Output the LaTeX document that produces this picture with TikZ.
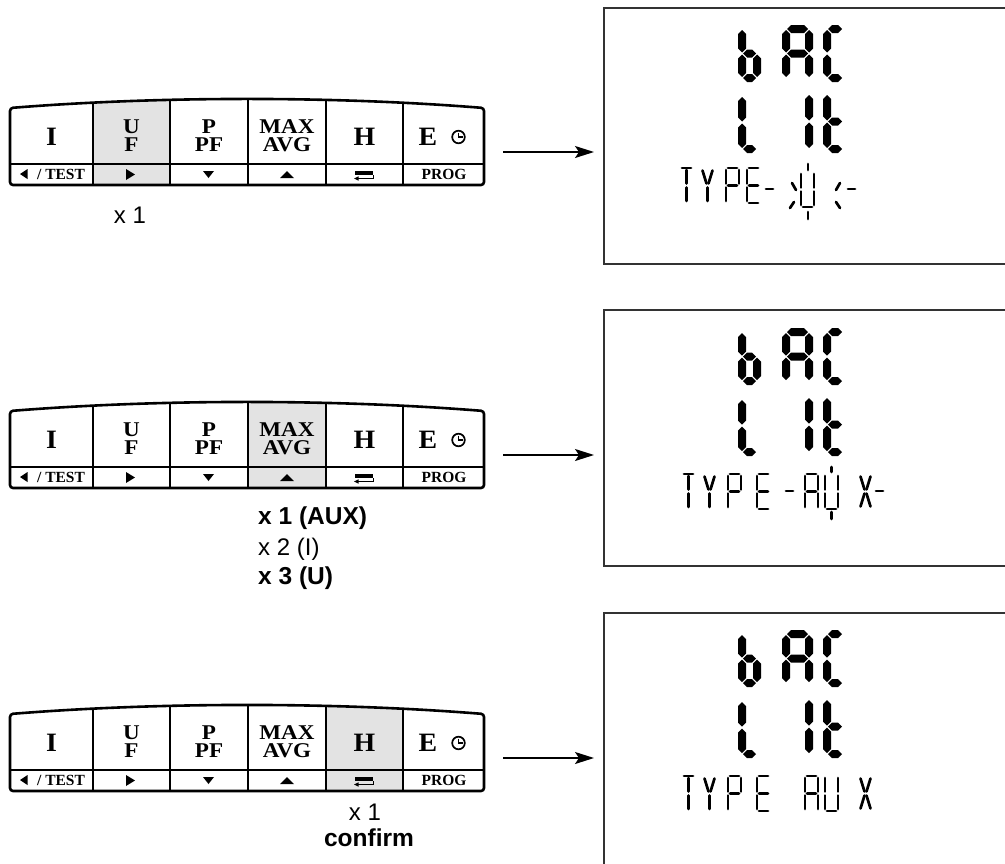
\documentclass[tikz,border=0pt]{standalone}
\usepackage{fontspec}
\setmainfont{Liberation Serif}
\newfontfamily\lsans{Liberation Sans}
\usetikzlibrary{arrows.meta}
\def\T{8}\def\G{1}
\def\SW{13}\def\SH{35}
\newcommand\hs[4]{\fill ({#1},{#3}) -- ({#1+#4/2},{#3-#4/2}) -- ({#2-#4/2},{#3-#4/2}) -- ({#2},{#3}) -- ({#2-#4/2},{#3+#4/2}) -- ({#1+#4/2},{#3+#4/2}) -- cycle;}
\newcommand\vs[4]{\fill ({#1},{#2}) -- ({#1+#4/2},{#2+#4/2}) -- ({#1+#4/2},{#3-#4/2}) -- ({#1},{#3}) -- ({#1-#4/2},{#3-#4/2}) -- ({#1-#4/2},{#2+#4/2}) -- cycle;}
\newcommand\SegA[4]{\hs{#1+\T/2+\G}{#1+#3-\T/2-\G}{#2+\T/2}{\T}}
\newcommand\SegB[4]{\vs{#1+#3-\T/2}{#2+\T/2+\G}{#2+#4/2-\G}{\T}}
\newcommand\SegC[4]{\vs{#1+#3-\T/2}{#2+#4/2+\G}{#2+#4-\T/2-\G}{\T}}
\newcommand\SegD[4]{\hs{#1+\T/2+\G}{#1+#3-\T/2-\G}{#2+#4-\T/2}{\T}}
\newcommand\SegE[4]{\vs{#1+\T/2}{#2+#4/2+\G}{#2+#4-\T/2-\G}{\T}}
\newcommand\SegF[4]{\vs{#1+\T/2}{#2+\T/2+\G}{#2+#4/2-\G}{\T}}
\newcommand\SegG[4]{\hs{#1+\T/2+\G}{#1+#3-\T/2-\G}{#2+#4/2}{\T}}
\newcommand\dig[5]{\foreach \s in {#5}{\csname Seg\s\endcsname{#1}{#2}{#3}{#4}}}
% small 14-segment characters
\newcommand\SMt[2]{\draw[ss] ({#1+2},{#2}) -- ({#1+\SW-2},{#2});}
\newcommand\SMb[2]{\draw[ss] ({#1+2},{#2+\SH}) -- ({#1+\SW-2},{#2+\SH});}
\newcommand\SMm[2]{\draw[ss] ({#1+2},{#2+\SH/2}) -- ({#1+\SW-2},{#2+\SH/2});}
\newcommand\SMlu[2]{\draw[ss] ({#1},{#2+2}) -- ({#1},{#2+\SH/2-2});}
\newcommand\SMll[2]{\draw[ss] ({#1},{#2+\SH/2+2}) -- ({#1},{#2+\SH-2});}
\newcommand\SMru[2]{\draw[ss] ({#1+\SW},{#2+2}) -- ({#1+\SW},{#2+\SH/2-2});}
\newcommand\SMrl[2]{\draw[ss] ({#1+\SW},{#2+\SH/2+2}) -- ({#1+\SW},{#2+\SH-2});}
\newcommand\SMcu[2]{\draw[ss] ({#1+\SW/2},{#2+2}) -- ({#1+\SW/2},{#2+\SH/2-2});}
\newcommand\SMcl[2]{\draw[ss] ({#1+\SW/2},{#2+\SH/2+2}) -- ({#1+\SW/2},{#2+\SH-2});}
\newcommand\SMdul[2]{\draw[ss] ({#1+1.5},{#2+2.5}) -- ({#1+\SW/2-1},{#2+\SH/2-2});}
\newcommand\SMdur[2]{\draw[ss] ({#1+\SW-1.5},{#2+2.5}) -- ({#1+\SW/2+1},{#2+\SH/2-2});}
\newcommand\SMdll[2]{\draw[ss] ({#1+1.5},{#2+\SH-2.5}) -- ({#1+\SW/2-1},{#2+\SH/2+2});}
\newcommand\SMdlr[2]{\draw[ss] ({#1+\SW-1.5},{#2+\SH-2.5}) -- ({#1+\SW/2+1},{#2+\SH/2+2});}
\newcommand\sm[3]{\foreach \s in {#3}{\csname SM\s\endcsname{#1}{#2}}}
\newcommand\dash[2]{\draw[ss] ({#1},{#2}) -- ({#1+7},{#2});}
\def\kpath{(10,108) .. controls (160,96) and (334,96) .. (484,108) -- (484,185) -- (10,185) -- cycle}
\newcommand\keypad[4]{%
\begin{scope}[shift={(0,#2)}]
 \begin{scope}
  \clip \kpath;
  \fill[black!11] (#3,90) rectangle (#4,190);
  \foreach \cx in {93,170,248,326,403} \draw[line width=2] (\cx,90) -- (\cx,190);
 \end{scope}
 \draw[line width=2] (10,164) -- (484,164);
 \draw[line width=2.6, rounded corners=3] (10,108) .. controls (160,96) and (334,96) .. (484,108) -- (484,185) -- (10,185) -- cycle;
 \node[inner sep=0, minimum width=474, minimum height=86] (#1) at (247,143) {};
 \node[keybig] (#1-i) at (51.5,137) {I};
 \node[keytwo] (#1-uf) at (131.5,136) {U\\F};
 \node[keytwo] (#1-ppf) at (209,136) {P\\PF};
 \node[keytwo] (#1-max) at (287,136) {MAX\\AVG};
 \node[keybig] (#1-h) at (364.5,137) {H};
 \node[keybig] (#1-e) at (428,137) {E};
 \draw[line width=1.7] (458.5,137) circle (6.3);
 \draw[line width=1.4] (458.5,132.5) -- (458.5,137) -- (462.5,137);
 \fill (27.5,169) -- (27.5,179) -- (20,174) -- cycle;
 \node[keysub] (#1-test) at (61,174.5) {/ TEST};
 \fill (126,169) -- (126,180) -- (135,174.5) -- cycle;
 \fill (203,171) -- (214,171) -- (208.5,178) -- cycle;
 \fill (280,178) -- (294,178) -- (287,171) -- cycle;
 \fill (355,170.5) rectangle (373,175);
 \draw[line width=0.9] (373,175) -- (373,178.5) -- (358,178.5);
 \fill (354,178.5) -- (358.5,176.3) -- (358.5,180.7) -- cycle;
 \node[keysub] (#1-prog) at (444,174.5) {PROG};
\end{scope}}
\newcommand\bigrows[1]{%
\begin{scope}[shift={(0,#1)}]
 \dig{738}{25}{23}{57}{F,E,G,C,D}
 \dig{782}{25}{31}{57}{A,B,C,E,F,G}
 \dig{823}{25}{24}{57}{A,D,E,F}
 \dig{738}{92}{23}{61}{F,E,D}
 \dig{790}{90}{23}{63}{B,C}
 \dig{823}{90}{24}{63}{F,E,G,D}
\end{scope}}
\begin{document}
\begin{tikzpicture}[x=1pt,y=-1pt,
  keybig/.style={font=\bfseries\fontsize{26.5}{26.5}\selectfont, inner sep=0, xscale=1.05},
  keytwo/.style={font=\bfseries\fontsize{21}{18}\selectfont, align=center, inner sep=0, xscale=1.1},
  keysub/.style={font=\bfseries\fontsize{15.5}{15.5}\selectfont, inner sep=0},
  lab/.style={font=\lsans\fontsize{24}{24}\selectfont, inner sep=0},
  labb/.style={font=\lsans\bfseries\fontsize{24.5}{24.5}\selectfont, inner sep=0},
  disp/.style={draw=black!80, line width=1.5, minimum width=430, minimum height=256, anchor=north west, inner sep=0},
  arr/.style={line width=1.6, -{Stealth[length=19,width=12,inset=4]}},
  ss/.style={line width=2.7, line cap=round},
]
\useasboundingbox (0,0) rectangle (1005,863);
% keypads
\keypad{kp1}{0}{93}{170}
\keypad{kp2}{303}{248}{326}
\keypad{kp3}{606}{326}{403}
% labels
\node[lab] (l1) at (130,215) {x 1};
\node[labb, anchor=west] (l2a) at (258,518) {x 1 (AUX)};
\node[lab, anchor=west] (l2b) at (258,549) {x 2 (I)};
\node[labb, anchor=west] (l2c) at (258,578) {x 3 (U)};
\node[lab] (l3a) at (365,812) {x 1};
\node[labb] (l3b) at (369,838) {confirm};
% displays
\node[disp] (d1) at (603,7) {};
\node[disp] (d2) at (603,309) {};
\node[disp, minimum height=300] (d3) at (603,612) {};
\bigrows{0}
\bigrows{303}
\bigrows{605}
% row 3 display 1: TYPE-U- (blinking)
\sm{680}{168}{t,cu,cl}
\sm{701}{168}{dul,dur,cl}
\sm{726}{168}{t,lu,ll,ru,m}
\sm{747}{168}{t,lu,ll,m,b}
\dash{766}{189}
\sm{801}{172}{lu,ll,ru,rl,b}
\draw[ss] (808,164) -- (808,170);
\draw[ss] (808,212) -- (808,219);
\draw[ss] (792,183) -- (796,190);
\draw[ss] (790,208) -- (794,202);
\draw[ss] (840,183) -- (836,190);
\draw[ss] (840,208) -- (836,202);
\dash{848}{189}
% row 3 display 2: TYPE-AUX-
\sm{682}{474}{t,cu,cl}
\sm{703}{474}{dul,dur,cl}
\sm{728}{474}{t,lu,ll,ru,m}
\sm{757}{474}{t,lu,ll,m,b}
\dash{786}{491}
\sm{805}{474}{t,lu,ll,ru,rl,m}
\sm{825}{474}{lu,ll,ru,rl,b}
\sm{859}{474}{dul,dur,dll,dlr}
\dash{876}{491}
\draw[ss] (831.5,467) -- (831.5,472);
\draw[ss] (831.5,512) -- (831.5,519);
% row 3 display 3: TYPE AUX
\sm{682}{776}{t,cu,cl}
\sm{703}{776}{dul,dur,cl}
\sm{728}{776}{t,lu,ll,ru,m}
\sm{757}{776}{t,lu,ll,m,b}
\sm{805}{776}{t,lu,ll,ru,rl,m}
\sm{825}{776}{lu,ll,ru,rl,b}
\sm{859}{776}{dul,dur,dll,dlr}
% arrows
\coordinate (a1) at (503,152); \coordinate (b1) at (594,152);
\coordinate (a2) at (503,455); \coordinate (b2) at (594,455);
\coordinate (a3) at (503,758); \coordinate (b3) at (594,758);
\draw[arr] (a1) -- (b1);
\draw[arr] (a2) -- (b2);
\draw[arr] (a3) -- (b3);
\end{tikzpicture}
\end{document}
